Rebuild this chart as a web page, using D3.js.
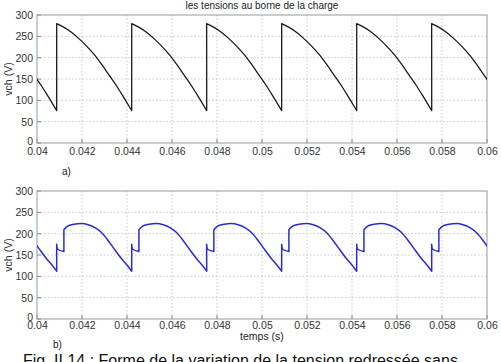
<!DOCTYPE html>
<html>
<head>
<meta charset="utf-8">
<script src="https://cdn.jsdelivr.net/npm/d3@7"></script>
<style>
body { margin: 0; background: #fff; }
text { font-family: "Liberation Sans", Arial, sans-serif; }
</style>
</head>
<body>
<div id="chart"></div>
<script>
const xTicks = [0.04, 0.042, 0.044, 0.046, 0.048, 0.05, 0.052, 0.054, 0.056, 0.058, 0.06];
const xTickLabels = ["0.04", "0.042", "0.044", "0.046", "0.048", "0.05", "0.052", "0.054", "0.056", "0.058", "0.06"];
const yTicks = [0, 50, 100, 150, 200, 250, 300];

// instants of the commutation jumps (s), and the ripple period
const jumpTimes = [0.040875, 0.04421, 0.04754, 0.050875, 0.05421, 0.05754];
const period = 0.003333;

// one ripple cycle, [offset after jump (ms), vch (V)], split where the curve jumps
const cycleA = [
    [[0, 280], [0.33, 271], [0.67, 259], [1.0, 244], [1.33, 227], [1.67, 207],
     [2.0, 184], [2.33, 159], [2.67, 133], [3.0, 105], [3.333, 76]]
];
const cycleB = [
    [[0, 175], [0.03, 164], [0.32, 158]],
    [[0.32, 209], [0.47, 217], [0.77, 222], [1.1, 224], [1.4, 221], [1.7, 214],
     [2.0, 202], [2.3, 183], [2.6, 161], [2.9, 140], [3.15, 125], [3.333, 112]]
];

const W = 501, H = 362;
const x0 = 37, x1 = 487;

const svg = d3.select("#chart").append("svg")
    .attr("width", W)
    .attr("height", H);

// title
svg.append("text")
    .attr("x", 262).attr("y", 9)
    .attr("text-anchor", "middle")
    .attr("font-size", 10)
    .attr("fill", "#222")
    .text("les tensions au borne de la charge");

function panel(id, top, bottom, cycle, color, width, pad) {
    const x = d3.scaleLinear().domain([0.04, 0.06]).range([x0, x1]);
    const y = d3.scaleLinear().domain([0, 300]).range([bottom, top]);

    const g = svg.append("g");

    svg.append("clipPath").attr("id", id)
        .append("rect")
        .attr("x", x0).attr("y", top)
        .attr("width", x1 - x0).attr("height", bottom - top);

    // grid
    g.selectAll(".gx").data(xTicks.slice(1, -1)).enter().append("line")
        .attr("x1", d => x(d)).attr("x2", d => x(d))
        .attr("y1", top).attr("y2", bottom)
        .attr("stroke", "#bbb").attr("stroke-width", 0.8)
        .attr("stroke-dasharray", "1.5,2");
    g.selectAll(".gy").data(yTicks.slice(1, -1)).enter().append("line")
        .attr("x1", x0).attr("x2", x1)
        .attr("y1", d => y(d)).attr("y2", d => y(d))
        .attr("stroke", "#bbb").attr("stroke-width", 0.8)
        .attr("stroke-dasharray", "1.5,2");

    // axes (ticks inside, labels outside)
    const xAxis = d3.axisBottom(x).tickValues(xTicks)
        .tickFormat((d, i) => xTickLabels[i]).tickSize(0).tickPadding(pad);
    const ax = g.append("g").attr("transform", `translate(0,${bottom})`).call(xAxis);
    const yAxis = d3.axisLeft(y).tickValues(yTicks).tickSize(0).tickPadding(4);
    const ay = g.append("g").attr("transform", `translate(${x0},0)`).call(yAxis);
    [ax, ay].forEach(a => {
        a.select(".domain").remove();
        a.selectAll("text").attr("font-size", 10.5).attr("fill", "#333")
            .attr("font-family", "Liberation Sans, Arial, sans-serif");
    });
    ay.selectAll("text").filter(d => d === 0).attr("dy", "0.1em");

    g.selectAll(".tx").data(xTicks).enter().append("line")
        .attr("x1", d => x(d)).attr("x2", d => x(d))
        .attr("y1", bottom).attr("y2", bottom - 4)
        .attr("stroke", "#888");
    g.selectAll(".ty").data(yTicks).enter().append("line")
        .attr("x1", x0).attr("x2", x0 + 4)
        .attr("y1", d => y(d)).attr("y2", d => y(d))
        .attr("stroke", "#888");

    g.append("rect")
        .attr("x", x0).attr("y", top)
        .attr("width", x1 - x0).attr("height", bottom - top)
        .attr("fill", "none").attr("stroke", "#999").attr("stroke-width", 1);

    // y label
    g.append("text")
        .attr("transform", `translate(12,${(top + bottom) / 2}) rotate(-90)`)
        .attr("text-anchor", "middle")
        .attr("font-size", 10.5)
        .attr("fill", "#333")
        .text("vch (V)");

    // build segments cycle by cycle
    const starts = [jumpTimes[0] - period].concat(jumpTimes);
    const segs = [];
    starts.forEach(j => {
        cycle.forEach(seg => {
            segs.push(seg.map(p => [j + p[0] / 1000, p[1]]));
        });
    });

    const line = d3.line()
        .x(d => x(d[0]))
        .y(d => y(d[1]))
        .curve(d3.curveMonotoneX);

    let dStr = segs.map(s => line(s)).join("");
    let first = true;
    dStr = dStr.replace(/M/g, () => { if (first) { first = false; return "M"; } return "L"; });

    g.append("path")
        .attr("clip-path", `url(#${id})`)
        .attr("d", dStr)
        .attr("fill", "none")
        .attr("stroke", color)
        .attr("stroke-width", width)
        .attr("stroke-linejoin", "round");

    return g;
}

panel("clipA", 15, 143, cycleA, "#1a1a1a", 1.3, 5);
panel("clipB", 191, 319, cycleB, "#2b2bd6", 1.5, 3);

svg.append("text")
    .attr("x", 62).attr("y", 175)
    .attr("font-size", 10).attr("fill", "#222")
    .text("a)");
svg.append("text")
    .attr("x", 53).attr("y", 348)
    .attr("font-size", 10).attr("fill", "#222")
    .text("b)");
svg.append("text")
    .attr("x", 262).attr("y", 340)
    .attr("text-anchor", "middle")
    .attr("font-size", 10.5).attr("fill", "#222")
    .text("temps (s)");

svg.append("text")
    .attr("x", 23).attr("y", 366)
    .attr("font-family", "Liberation Serif, Times New Roman, serif")
    .attr("font-size", 16).attr("fill", "#111")
    .text("Fig. II.14 : Forme de la variation de la tension redressée sans");
</script>
</body>
</html>
